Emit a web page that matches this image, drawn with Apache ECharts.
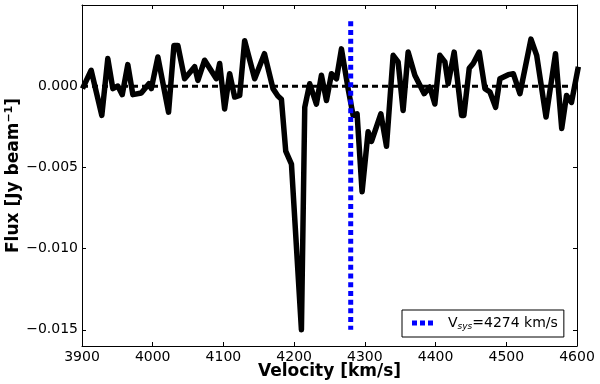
<!DOCTYPE html>
<html>
<head>
<meta charset="utf-8">
<script src="https://cdn.jsdelivr.net/npm/echarts@6.0.0/dist/echarts.min.js"></script>
<style>
  html, body { margin: 0; padding: 0; background: #fff; }
  #chart { width: 600px; height: 384px; }
</style>
</head>
<body>
<div id="chart"></div>
<script>
// spectrum (km/s, Jy/beam)
const velocity = [3900.7, 3913, 3928, 3936.5, 3943.6, 3950.7, 3956.9, 3964.8, 3971.9, 3983.8,
  3994.6, 3998, 4007.3, 4022.4, 4030, 4035.6, 4045.1, 4059.3, 4063.9, 4073.4,
  4090, 4094.7, 4101.7, 4108.8, 4115.9, 4123, 4130, 4144.2, 4158, 4170.1,
  4177, 4182, 4188.1, 4196.2, 4210.3, 4215, 4222, 4231.5, 4238.6, 4245.7,
  4252.8, 4259.9, 4266.9, 4276.3, 4283.4, 4289, 4296.1, 4304.6, 4309.4, 4322.6,
  4330.6, 4340, 4347, 4354.1, 4361.2, 4370.7, 4383.9, 4391.9, 4399, 4406.1,
  4413.2, 4417.8, 4426.3, 4436.8, 4440, 4447.6, 4453.2, 4461.7, 4469.8, 4476.9,
  4484.9, 4491, 4502.8, 4509.9, 4519.3, 4534.9, 4543, 4556.2, 4569.6, 4578.4,
  4585.2, 4592.2, 4601.9];
const flux = [-0.00015, 0.00098, -0.0018, 0.0017, -0.00015, 0.00001, -0.00052, 0.00133, -0.00052, -0.00042,
  0.00015, -0.00015, 0.0018, -0.0016, 0.0025, 0.0025, 0.00046, 0.0012, 0.00036, 0.0016,
  0.00046, 0.0014, -0.0014, 0.00077, -0.00067, -0.00057, 0.0028, 0.00046, 0.0020, -0.00015,
  -0.0006, -0.0008, -0.0040, -0.0048, -0.0150, -0.0013, 0.00015, -0.0011, 0.00067, -0.00088,
  0.00077, 0.00046, 0.0023, -0.00015, -0.0018, -0.0017, -0.0065, -0.0028, -0.0034, -0.0017,
  -0.0037, 0.0019, 0.0015, -0.0015, 0.0021, 0.00067, -0.00046, -0.00005, -0.0011, 0.0019,
  0.0015, 0.00015, 0.0021, -0.0018, -0.0018, 0.0011, 0.0014, 0.0021, -0.00015, -0.00036,
  -0.0013, 0.00046, 0.00071, 0.00077, -0.00046, 0.0029, 0.0019, -0.0019, 0.0020, -0.0026,
  -0.00057, -0.0010, 0.0012];

const vsysPos = 4280;          // where the dotted line sits in the picture
const vsysSpan = [0.004, -0.015];
const vsysLabel = "4274 km/s";

const yTicks = [-0.015, -0.010, -0.005, 0.000];
const xRange = [3900, 4600];
const yRange = [-0.016, 0.005];

const font = "DejaVu Sans";

const chart = echarts.init(document.getElementById("chart"));

const spectrum = velocity.map((v, i) => [v, flux[i]]);
const zeroLine = [[xRange[0], 0], [xRange[1], 0]];
const vsysLine = vsysSpan.map(f => [vsysPos, f]);

const fmtY = v => v.toFixed(3).replace("-", "\u2212");

chart.setOption({
  animation: false,
  textStyle: { fontFamily: font },
  grid: { left: 82, right: 23, top: 5, bottom: 38, outerBoundsMode: "none" },
  xAxis: [
    {
      type: "value", min: xRange[0], max: xRange[1], interval: 100,
      name: "Velocity [km/s]", nameLocation: "middle", nameGap: 17, nameMoveOverlap: false,
      nameTextStyle: { fontSize: 17, fontWeight: "bold", color: "#000", fontFamily: font },
      axisLine: { onZero: false, lineStyle: { color: "#000", width: 1 } },
      axisTick: { inside: true, length: 4, lineStyle: { color: "#000" } },
      axisLabel: { color: "#000", fontSize: 14, margin: 4, fontFamily: font, formatter: v => String(v) },
      splitLine: { show: false },
    },
    {
      type: "value", position: "top", min: xRange[0], max: xRange[1], interval: 100,
      axisLine: { onZero: false, lineStyle: { color: "#000", width: 1 } },
      axisTick: { inside: true, length: 4, lineStyle: { color: "#000" } },
      axisLabel: { show: false },
      splitLine: { show: false },
    },
  ],
  yAxis: [
    {
      type: "value", min: yRange[0], max: yRange[1],
      name: "Flux [Jy beam{sup|\u22121}]", nameLocation: "middle", nameGap: 58, nameMoveOverlap: false,
      nameTextStyle: {
        fontSize: 17, fontWeight: "bold", color: "#000", fontFamily: font,
        rich: { sup: { fontSize: 11, color: "#000", fontFamily: font, padding: [0, 0, 9, 0] } },
      },
      axisLine: { onZero: false, lineStyle: { color: "#000", width: 1 } },
      axisTick: { inside: true, length: 4, customValues: yTicks, lineStyle: { color: "#000" } },
      axisLabel: { color: "#000", fontSize: 14, margin: 4, fontFamily: font, customValues: yTicks, formatter: fmtY },
      splitLine: { show: false },
    },
    {
      type: "value", position: "right", min: yRange[0], max: yRange[1],
      axisLine: { onZero: false, lineStyle: { color: "#000", width: 1 } },
      axisTick: { inside: true, length: 4, customValues: yTicks, lineStyle: { color: "#000" } },
      axisLabel: { show: false },
      splitLine: { show: false },
    },
  ],
  legend: {
    left: 402, top: 310,
    padding: [6, 6, 6, 10],
    borderColor: "#000", borderWidth: 1, borderRadius: 0,
    itemWidth: 21, itemHeight: 5,
    data: [{ name: "vsys", icon: "path://M0,0h5v5h-5z M8,0h5v5h-5z M16,0h5v5h-5z" }],
    formatter: () => "V{sub|sys}=" + vsysLabel,
    textStyle: {
      fontSize: 14, color: "#000", fontFamily: font, padding: [0, 0, 0, 10],
      rich: { sub: { fontSize: 9, fontStyle: "italic", fontFamily: font, color: "#000", padding: [7, 0, 0, 0] } },
    },
  },
  series: [
    {
      name: "zero", type: "line", data: zeroLine, symbol: "none", z: 1,
      lineStyle: { color: "#000", width: 3, type: [6, 4] },
      silent: true,
    },
    {
      name: "spectrum", type: "line", data: spectrum, symbol: "none", z: 2,
      lineStyle: { color: "#000", width: 5.5, join: "round" },
    },
    {
      name: "vsys", type: "line", data: vsysLine, symbol: "none", z: 3,
      itemStyle: { color: "#0000ff" },
      lineStyle: { color: "#0000ff", width: 5, type: [5, 3.7] },
    },
  ],
});
</script>
</body>
</html>
